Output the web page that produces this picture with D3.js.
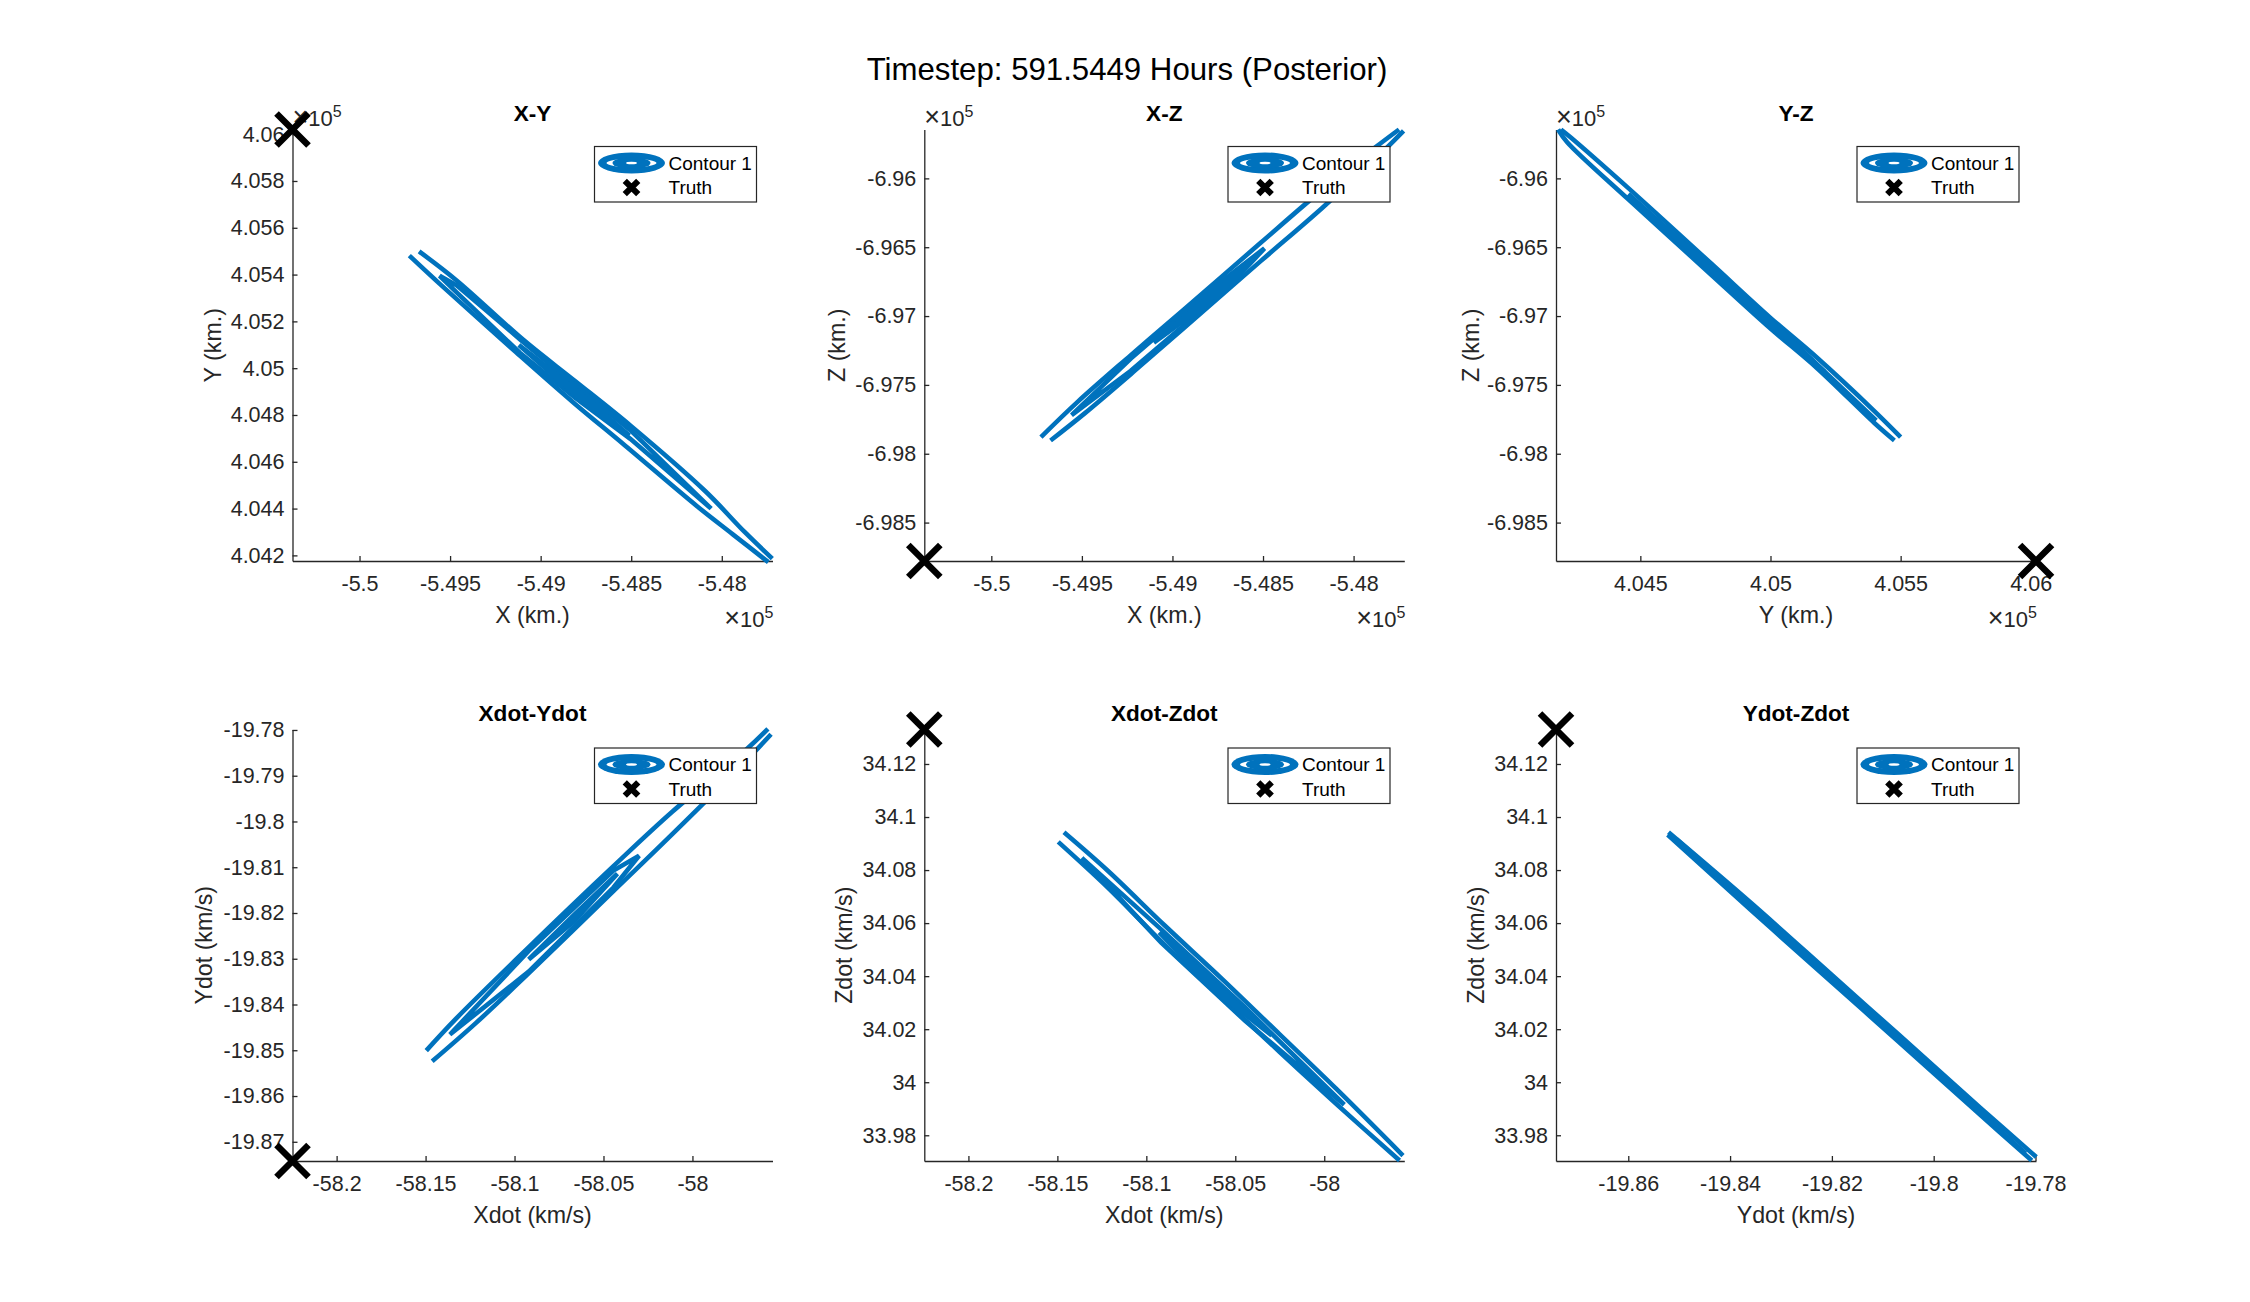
<!DOCTYPE html>
<html>
<head>
<meta charset="utf-8">
<script src="https://cdn.jsdelivr.net/npm/d3@7"></script>
<style>
body { margin: 0; background: #fff; }
text { font-family: "Liberation Sans", Arial, sans-serif; }
</style>
</head>
<body>
<div id="chart"></div>
<script>
// tick values
var ticksPosX = [-5.5, -5.495, -5.49, -5.485, -5.48];
var ticksPosY = [4.042, 4.044, 4.046, 4.048, 4.05, 4.052, 4.054, 4.056, 4.058, 4.06];
var ticksPosYb = [4.045, 4.05, 4.055, 4.06];
var ticksPosZ = [-6.985, -6.98, -6.975, -6.97, -6.965, -6.96];
var ticksVelX = [-58.2, -58.15, -58.1, -58.05, -58];
var ticksVelY = [-19.87, -19.86, -19.85, -19.84, -19.83, -19.82, -19.81, -19.8, -19.79, -19.78];
var ticksVelYb = [-19.86, -19.84, -19.82, -19.8, -19.78];
var ticksVelZ = [33.98, 34, 34.02, 34.04, 34.06, 34.08, 34.1, 34.12];

// truth values
var truthX = -5.5037, truthY = 4.0602, truthZ = -6.98779;
var truthXdot = -58.2248, truthYdot = -19.8742, truthZdot = 34.133;

// axis ends that are not the truth
var xMaxPos = -5.4772, yMinPos = 4.04176, zMaxPos = -6.95645;
var xdotMax = -57.955, ydotMax = -19.7799, zdotMin = 33.9703;

// X-Y contours, [x, y] in 1e5 km. The outer one is open: first half one edge, second half the other
var xyOuter = [[-5.49671,4.05499],[-5.49464,4.05375],[-5.49094,4.05120],[-5.48810,4.04945],[-5.48505,4.04755],[-5.48092,4.04475],[-5.47874,4.04300],[-5.47721,4.04186],
  [-5.47743,4.04171],[-5.47939,4.04290],[-5.48135,4.04409],[-5.48549,4.04679],[-5.48810,4.04847],[-5.49137,4.05069],[-5.49551,4.05356],[-5.49725,4.05481]];
var xyRing2 = [[-5.49558,4.05395],[-5.49464,4.05354],[-5.49115,4.05124],[-5.48810,4.04926],[-5.48505,4.04735],[-5.48059,4.04400],
  [-5.48505,4.04698],[-5.48810,4.04874],[-5.49115,4.05066],[-5.49464,4.05324]];
var xyRing3 = [[-5.49120,4.05099],[-5.48810,4.04912],[-5.48510,4.04712],[-5.48810,4.04888]];

// X-Z contours
var xzOuter = [[-5.49726,-6.97879],[-5.49525,-6.97625],[-5.49230,-6.97284],[-5.48935,-6.96950],[-5.48513,-6.96468],[-5.48196,-6.96109],[-5.47880,-6.95775],[-5.47749,-6.95645],
  [-5.47724,-6.95655],[-5.47838,-6.95805],[-5.48175,-6.96217],[-5.48513,-6.96601],[-5.48935,-6.97085],[-5.49230,-6.97422],[-5.49483,-6.97705],[-5.49673,-6.97904]];
var xzRing2 = [[-5.49557,-6.97720],[-5.49230,-6.97309],[-5.48935,-6.96975],[-5.48724,-6.96744],[-5.48492,-6.96508],[-5.48724,-6.96834],[-5.48935,-6.97065],[-5.49230,-6.97397]];
var xzRing3 = [[-5.49103,-6.97193],[-5.48829,-6.96892],[-5.48576,-6.96603],[-5.48829,-6.96930]];

// Y-Z contours
var yzOuter = [[4.05500,-6.97879],[4.05398,-6.97688],[4.05178,-6.97301],[4.05,-6.97013],[4.04769,-6.96613],[4.04454,-6.96071],[4.04234,-6.95705],[4.04195,-6.95645],
  [4.04184,-6.95645],[4.04219,-6.95737],[4.04454,-6.96152],[4.04769,-6.96694],[4.05,-6.97090],[4.05178,-6.97377],[4.05398,-6.97775],[4.05476,-6.97904]];
var yzRing2 = [[4.04454,-6.96114],[4.05,-6.97030],[4.05406,-6.97758],[4.05,-6.97068]];
var yzRing3 = [[4.04737,-6.96603],[4.05,-6.97037],[4.05209,-6.97407],[4.05,-6.97061]];

// Xdot-Ydot contours, km/s
var xdydOuter = [[-58.14961,-19.85008],[-58.13300,-19.84314],[-58.09313,-19.82790],[-58.04441,-19.80978],[-58.01119,-19.79783],[-57.96911,-19.78406],[-57.95759,-19.77977],
  [-57.95582,-19.78094],[-57.96911,-19.78641],[-58.01119,-19.80272],[-58.04441,-19.81522],[-58.09313,-19.83358],[-58.12193,-19.84413],[-58.14629,-19.85242]];
var xdydRing2 = [[-58.13632,-19.84656],[-58.09203,-19.82829],[-58.04441,-19.81072],[-58.03001,-19.80750],[-58.04441,-19.81444],[-58.09203,-19.83280]];
var xdydRing3 = [[-58.09203,-19.83016],[-58.06656,-19.82039],[-58.04219,-19.81141],[-58.06656,-19.82180]];

// Xdot-Zdot contours
var xdzdOuter = [[-58.14630,34.09425],[-58.12165,34.07975],[-58.08950,34.05899],[-58.05734,34.03889],[-58.02519,34.01813],[-57.99303,33.99737],[-57.95574,33.97235],
  [-57.95767,33.97047],[-57.99303,33.99168],[-58.02519,34.01150],[-58.05734,34.03160],[-58.08950,34.05169],[-58.12165,34.07339],[-58.14952,34.09064]];
var xdzdRing2 = [[-58.13623,34.08461],[-58.09164,34.05765],[-58.04448,34.02818],[-57.98875,33.99151],[-58.04448,34.02316],[-58.09164,34.05263]];
var xdzdRing3 = [[-58.09271,34.05648],[-58.06056,34.03638],[-58.02948,34.01763],[-58.06056,34.03397]];

// Ydot-Zdot contours
var ydzdOuter = [[-19.85210,34.09425],[-19.83597,34.06776],[-19.82,34.04043],[-19.80694,34.01806],[-19.79081,33.99033],[-19.77984,33.97181],
  [-19.78073,33.97047],[-19.79081,33.98759],[-19.80694,34.01532],[-19.82,34.03769],[-19.83597,34.06502],[-19.85226,34.09332]];
var ydzdRing2 = [[-19.85048,34.09157],[-19.82,34.03933],[-19.78194,33.97315],[-19.82,34.03879]];

var titles = ["X-Y", "X-Z", "Y-Z", "Xdot-Ydot", "Xdot-Zdot", "Ydot-Zdot"];
var xLabels = ["X (km.)", "X (km.)", "Y (km.)", "Xdot (km/s)", "Xdot (km/s)", "Ydot (km/s)"];
var yLabels = ["Y (km.)", "Z (km.)", "Z (km.)", "Ydot (km/s)", "Zdot (km/s)", "Zdot (km/s)"];

var W = 2250, H = 1302;
var blue = "#0072bd", ink = "#262626";
var colX = [292.5, 924.3, 1556], plotW = 480;
var rowTop = [129.5, 729.5], plotH = 431.5;
var legendX = [594.5, 1228, 1857], legendY = [146.5, 748];
var yLabelX = [213, 836.5, 1470.5, 204, 844, 1476];

var panels = [
  {c: 0, r: 0, xd: [truthX, xMaxPos], yd: [yMinPos, truthY], xt: ticksPosX, yt: ticksPosY, truth: [truthX, truthY], rings: [xyRing2, xyRing3], outer: xyOuter, expX: true, expY: true},
  {c: 1, r: 0, xd: [truthX, xMaxPos], yd: [truthZ, zMaxPos], xt: ticksPosX, yt: ticksPosZ, truth: [truthX, truthZ], rings: [xzRing2, xzRing3], outer: xzOuter, expX: true, expY: true},
  {c: 2, r: 0, xd: [yMinPos, truthY], yd: [truthZ, zMaxPos], xt: ticksPosYb, yt: ticksPosZ, truth: [truthY, truthZ], rings: [yzRing2, yzRing3], outer: yzOuter, expX: true, expY: true},
  {c: 0, r: 1, xd: [truthXdot, xdotMax], yd: [truthYdot, ydotMax], xt: ticksVelX, yt: ticksVelY, truth: [truthXdot, truthYdot], rings: [xdydRing2, xdydRing3], outer: xdydOuter},
  {c: 1, r: 1, xd: [truthXdot, xdotMax], yd: [zdotMin, truthZdot], xt: ticksVelX, yt: ticksVelZ, truth: [truthXdot, truthZdot], rings: [xdzdRing2, xdzdRing3], outer: xdzdOuter},
  {c: 2, r: 1, xd: [truthYdot, ydotMax], yd: [zdotMin, truthZdot], xt: ticksVelYb, yt: ticksVelZ, truth: [truthYdot, truthZdot], rings: [ydzdRing2], outer: ydzdOuter}
];

var svg = d3.select("#chart").append("svg")
    .attr("width", W)
    .attr("height", H);

svg.append("text")
    .attr("x", 1127).attr("y", 69).attr("dy", "0.35em")
    .attr("text-anchor", "middle")
    .style("font-size", "31.2px")
    .style("fill", "#000")
    .text("Timestep: 591.5449 Hours (Posterior)");

function addExponent(g, x, y, anchor) {
  var t = g.append("text")
      .attr("x", x).attr("y", y).attr("dy", "0.35em")
      .attr("text-anchor", anchor)
      .style("fill", ink);
  t.append("tspan").style("font-size", "27px").style("font-weight", "200").text("\u00d7");
  t.append("tspan").style("font-size", "22px").text("10");
  t.append("tspan").attr("dy", "-9").style("font-size", "16px").text("5");
}

function addLegend(x, y) {
  var g = svg.append("g").attr("transform", "translate(" + x + "," + y + ")");
  g.append("rect")
      .attr("width", 162).attr("height", 55.5)
      .attr("fill", "#fff").attr("stroke", ink).attr("stroke-width", 1.2);
  // small contour icon, a blue disc with the white gaps between its rings
  var icon = [[33.5, 10.5, blue], [25, 4.2, "#fff"], [19, 5.6, blue], [5.5, 1.3, "#fff"]];
  icon.forEach(function(r) {
    g.append("ellipse")
        .attr("cx", 37).attr("cy", 16.5)
        .attr("rx", r[0]).attr("ry", r[1])
        .attr("fill", r[2]);
  });
  g.append("path")
      .attr("transform", "translate(37,41)")
      .attr("d", d3.symbol().type(d3.symbolTimes).size(120)())
      .attr("fill", "none").attr("stroke", "#000").attr("stroke-width", 6);
  g.append("text").attr("x", 74).attr("y", 16.5).attr("dy", "0.35em")
      .style("font-size", "19px").style("fill", "#000").text("Contour 1");
  g.append("text").attr("x", 74).attr("y", 41).attr("dy", "0.35em")
      .style("font-size", "19px").style("fill", "#000").text("Truth");
}

panels.forEach(function(p, i) {
  var left = colX[p.c], top = rowTop[p.r];
  var g = svg.append("g").attr("transform", "translate(" + left + "," + top + ")");

  var x = d3.scaleLinear().domain(p.xd).range([0, plotW]);
  var y = d3.scaleLinear().domain(p.yd).range([plotH, 0]);

  var xAxis = d3.axisBottom(x).tickValues(p.xt).tickFormat(String)
      .tickSizeInner(-5).tickSizeOuter(0).tickPadding(15);
  var yAxis = d3.axisLeft(y).tickValues(p.yt).tickFormat(String)
      .tickSizeInner(-5).tickSizeOuter(0).tickPadding(8);

  var gx = g.append("g").attr("transform", "translate(0," + plotH + ")").call(xAxis);
  var gy = g.append("g").call(yAxis);
  [gx, gy].forEach(function(a) {
    a.selectAll("path, line").attr("stroke", ink).attr("stroke-width", 1.3);
    a.selectAll("text").style("font-size", "21.5px").style("font-family", '"Liberation Sans", Arial, sans-serif').style("fill", ink);
  });

  g.append("text")
      .attr("x", plotW / 2).attr("y", -16).attr("dy", "0.35em")
      .attr("text-anchor", "middle")
      .style("font-size", "22.6px").style("font-weight", "bold").style("fill", "#000")
      .text(titles[i]);
  g.append("text")
      .attr("x", plotW / 2).attr("y", plotH + 54).attr("dy", "0.35em")
      .attr("text-anchor", "middle")
      .style("font-size", "23.2px").style("fill", ink)
      .text(xLabels[i]);
  g.append("text")
      .attr("transform", "translate(" + (yLabelX[i] - left) + "," + (plotH / 2) + ") rotate(-90)")
      .attr("dy", "0.35em")
      .attr("text-anchor", "middle")
      .style("font-size", "23.2px").style("fill", ink)
      .text(yLabels[i]);

  if (p.expX) addExponent(g, plotW + 1, plotH + 60, "end");
  if (p.expY) addExponent(g, 0, -9, "start");

  var line = d3.line().x(function(d) { return x(d[0]); }).y(function(d) { return y(d[1]); }).curve(d3.curveCatmullRom.alpha(0.5));
  var ring = d3.line().x(function(d) { return x(d[0]); }).y(function(d) { return y(d[1]); }).curve(d3.curveLinearClosed);

  // each edge of the outer contour separately so the tip stays sharp
  var half = p.outer.length / 2;
  [p.outer.slice(0, half), p.outer.slice(half)].forEach(function(edge) {
    g.append("path").datum(edge)
        .attr("d", line)
        .attr("fill", "none").attr("stroke", blue).attr("stroke-width", 4.6);
  });
  g.selectAll(".ring").data(p.rings).enter().append("path")
      .attr("class", "ring")
      .attr("d", ring)
      .attr("fill", "none").attr("stroke", blue).attr("stroke-width", 4.6);

  g.append("path")
      .attr("transform", "translate(" + x(p.truth[0]) + "," + y(p.truth[1]) + ")")
      .attr("d", d3.symbol().type(d3.symbolTimes).size(670)())
      .attr("fill", "none").attr("stroke", "#000").attr("stroke-width", 6.5);

  addLegend(legendX[p.c], legendY[p.r]);
});
</script>
</body>
</html>
